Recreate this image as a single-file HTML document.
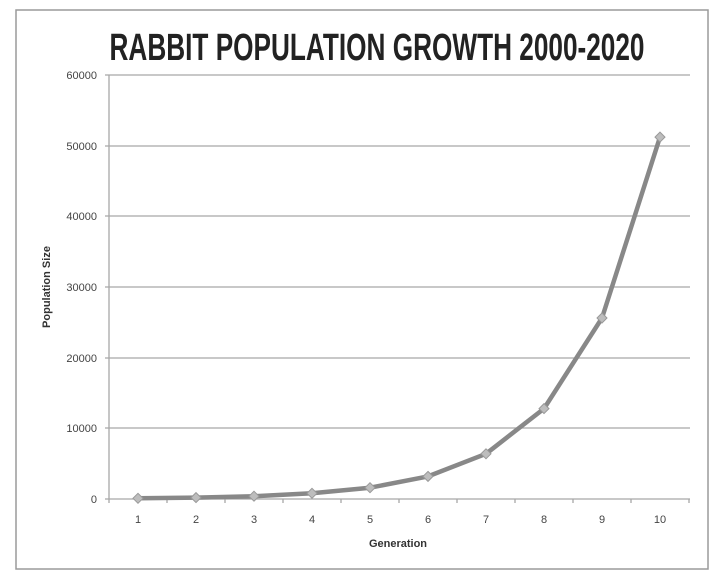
<!DOCTYPE html>
<html><head><meta charset="utf-8"><style>
html,body{margin:0;padding:0;background:#fff;}
svg{display:block;}
</style></head><body>
<svg width="720" height="580" xmlns="http://www.w3.org/2000/svg" font-family="Liberation Sans, sans-serif">
<rect x="16" y="10" width="692" height="559" fill="#fff" stroke="#9a9a9a" stroke-width="1.5"/>
<text x="377" y="60" text-anchor="middle" font-size="38" font-weight="bold" fill="#222" textLength="535" lengthAdjust="spacingAndGlyphs" font-family="Liberation Sans Narrow, Liberation Sans, sans-serif">RABBIT POPULATION GROWTH 2000-2020</text>
<g stroke="#a8a8a8" stroke-width="1.3">
<line x1="105" y1="75" x2="690" y2="75"/>
<line x1="105" y1="146" x2="690" y2="146"/>
<line x1="105" y1="216" x2="690" y2="216"/>
<line x1="105" y1="287" x2="690" y2="287"/>
<line x1="105" y1="358" x2="690" y2="358"/>
<line x1="105" y1="428" x2="690" y2="428"/>
<line x1="105" y1="499" x2="690" y2="499"/>
<line x1="109" y1="75" x2="109" y2="503"/>
<line x1="167" y1="499" x2="167" y2="503"/><line x1="225" y1="499" x2="225" y2="503"/>
<line x1="283" y1="499" x2="283" y2="503"/><line x1="341" y1="499" x2="341" y2="503"/>
<line x1="399" y1="499" x2="399" y2="503"/><line x1="457" y1="499" x2="457" y2="503"/>
<line x1="515" y1="499" x2="515" y2="503"/><line x1="573" y1="499" x2="573" y2="503"/>
<line x1="631" y1="499" x2="631" y2="503"/><line x1="689" y1="499" x2="689" y2="503"/>
</g>
<g font-size="11" fill="#444" text-anchor="end">
<text x="97" y="79">60000</text><text x="97" y="150">50000</text><text x="97" y="220">40000</text>
<text x="97" y="291">30000</text><text x="97" y="362">20000</text><text x="97" y="432">10000</text><text x="97" y="503">0</text>
</g>
<g font-size="11" fill="#444" text-anchor="middle">
<text x="138" y="523">1</text><text x="196" y="523">2</text><text x="254" y="523">3</text><text x="312" y="523">4</text><text x="370" y="523">5</text>
<text x="428" y="523">6</text><text x="486" y="523">7</text><text x="544" y="523">8</text><text x="602" y="523">9</text><text x="660" y="523">10</text>
</g>
<text x="398" y="547" text-anchor="middle" font-size="11" font-weight="bold" fill="#333">Generation</text>
<text transform="translate(50,287) rotate(-90)" text-anchor="middle" font-size="11" font-weight="bold" fill="#333">Population  Size</text>
<polyline fill="none" stroke="#888" stroke-width="4.5" stroke-linejoin="round" points="138,498.3 196,497.6 254,496.2 312,493.3 370,487.7 428,476.4 486,453.8 544,408.6 602,318 660,137.1"/>
<g fill="#bdbdbd" stroke="#999" stroke-width="1">
<path d="M138 493.3l5 5-5 5-5-5z"/><path d="M196 492.6l5 5-5 5-5-5z"/><path d="M254 491.2l5 5-5 5-5-5z"/>
<path d="M312 488.3l5 5-5 5-5-5z"/><path d="M370 482.7l5 5-5 5-5-5z"/><path d="M428 471.4l5 5-5 5-5-5z"/>
<path d="M486 448.8l5 5-5 5-5-5z"/><path d="M544 403.6l5 5-5 5-5-5z"/><path d="M602 313l5 5-5 5-5-5z"/>
<path d="M660 132.1l5 5-5 5-5-5z"/>
</g>
</svg>
</body></html>
